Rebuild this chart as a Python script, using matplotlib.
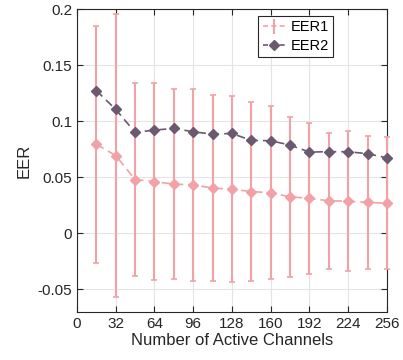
import numpy as np
import matplotlib
matplotlib.use('Agg')
import matplotlib.pyplot as plt

plt.rcParams['font.family'] = ['Liberation Sans', 'DejaVu Sans']
plt.rcParams['font.size'] = 10

channels = [16, 32, 48, 64, 80, 96, 112, 128, 144, 160, 176, 192, 208, 224, 240, 256]
eer1 = [0.0795, 0.0695, 0.048, 0.0463, 0.0439, 0.0434, 0.0404, 0.0394,
        0.0373, 0.0363, 0.0325, 0.0314, 0.029, 0.0288, 0.0276, 0.027]
eer1_err = [0.106, 0.1264, 0.086, 0.0877, 0.0847, 0.0857, 0.0827, 0.0829,
            0.0799, 0.0771, 0.0712, 0.0674, 0.061, 0.0628, 0.0595, 0.0592]
eer2 = [0.1274, 0.1107, 0.0902, 0.0922, 0.0937, 0.0907, 0.0886, 0.0892,
        0.083, 0.0827, 0.0788, 0.0726, 0.0729, 0.0729, 0.0711, 0.0675]

pink = '#f2a2a6'
purple = '#6b5a6e'

fig = plt.figure(figsize=(4.03, 3.6), dpi=100)
ax = fig.add_axes([0.191, 0.134, 0.769, 0.840])

eb = ax.errorbar(channels, eer1, yerr=eer1_err, color=pink, ls='--', lw=1.2,
                 marker='D', ms=5, capsize=2.5, elinewidth=1.5, capthick=1.2,
                 dashes=(5, 3), label='EER1', zorder=3)
for art in eb.lines[0:1] + tuple(eb.lines[1]) + tuple(eb.lines[2]):
    art.set_clip_on(False)
l2, = ax.plot(channels, eer2, color=purple, ls='--', lw=1.2, marker='D', ms=5,
              dashes=(5, 3), label='EER2', zorder=4, clip_on=False)

ax.set_xlim(0, 256)
ax.set_ylim(-0.07, 0.2)
ax.set_xticks(np.arange(0, 257, 32))
ax.set_yticks([-0.05, 0, 0.05, 0.1, 0.15, 0.2])
ax.set_yticklabels(['-0.05', '0', '0.05', '0.1', '0.15', '0.2'])
ax.grid(True, color='#e4e4e4', lw=0.8)
ax.set_axisbelow(True)
ax.tick_params(direction='in', top=True, right=True, length=4, colors='#262626',
               labelsize=11, labelcolor='#262626')
for s in ax.spines.values():
    s.set_color('#262626')
    s.set_linewidth(0.8)
ax.set_xlabel('Number of Active Channels', fontsize=12, color='#262626', labelpad=2)
ax.set_ylabel('EER', fontsize=12, color='#262626')

# legend handle for EER1: dashed line with errorbar, no marker (as in the original)
h1 = ax.errorbar([], [], yerr=[], color=pink, ls='--', lw=1.2, capsize=2.5,
                 elinewidth=1.5, capthick=1.2, dashes=(3, 2))
h2, = ax.plot([], [], color=purple, ls='--', lw=1.2, marker='D', ms=5, dashes=(3, 2))
leg = ax.legend([h1, h2], ['EER1', 'EER2'], loc='upper right',
                bbox_to_anchor=(0.826, 0.978), fancybox=False,
                edgecolor='#262626', framealpha=1, handlelength=1.6, borderpad=0.3,
                handletextpad=0.3, labelspacing=0.3, borderaxespad=0, fontsize=10.5)
leg.get_frame().set_linewidth(0.8)
leg.set_zorder(5)

fig.savefig('out.png', dpi=100)
